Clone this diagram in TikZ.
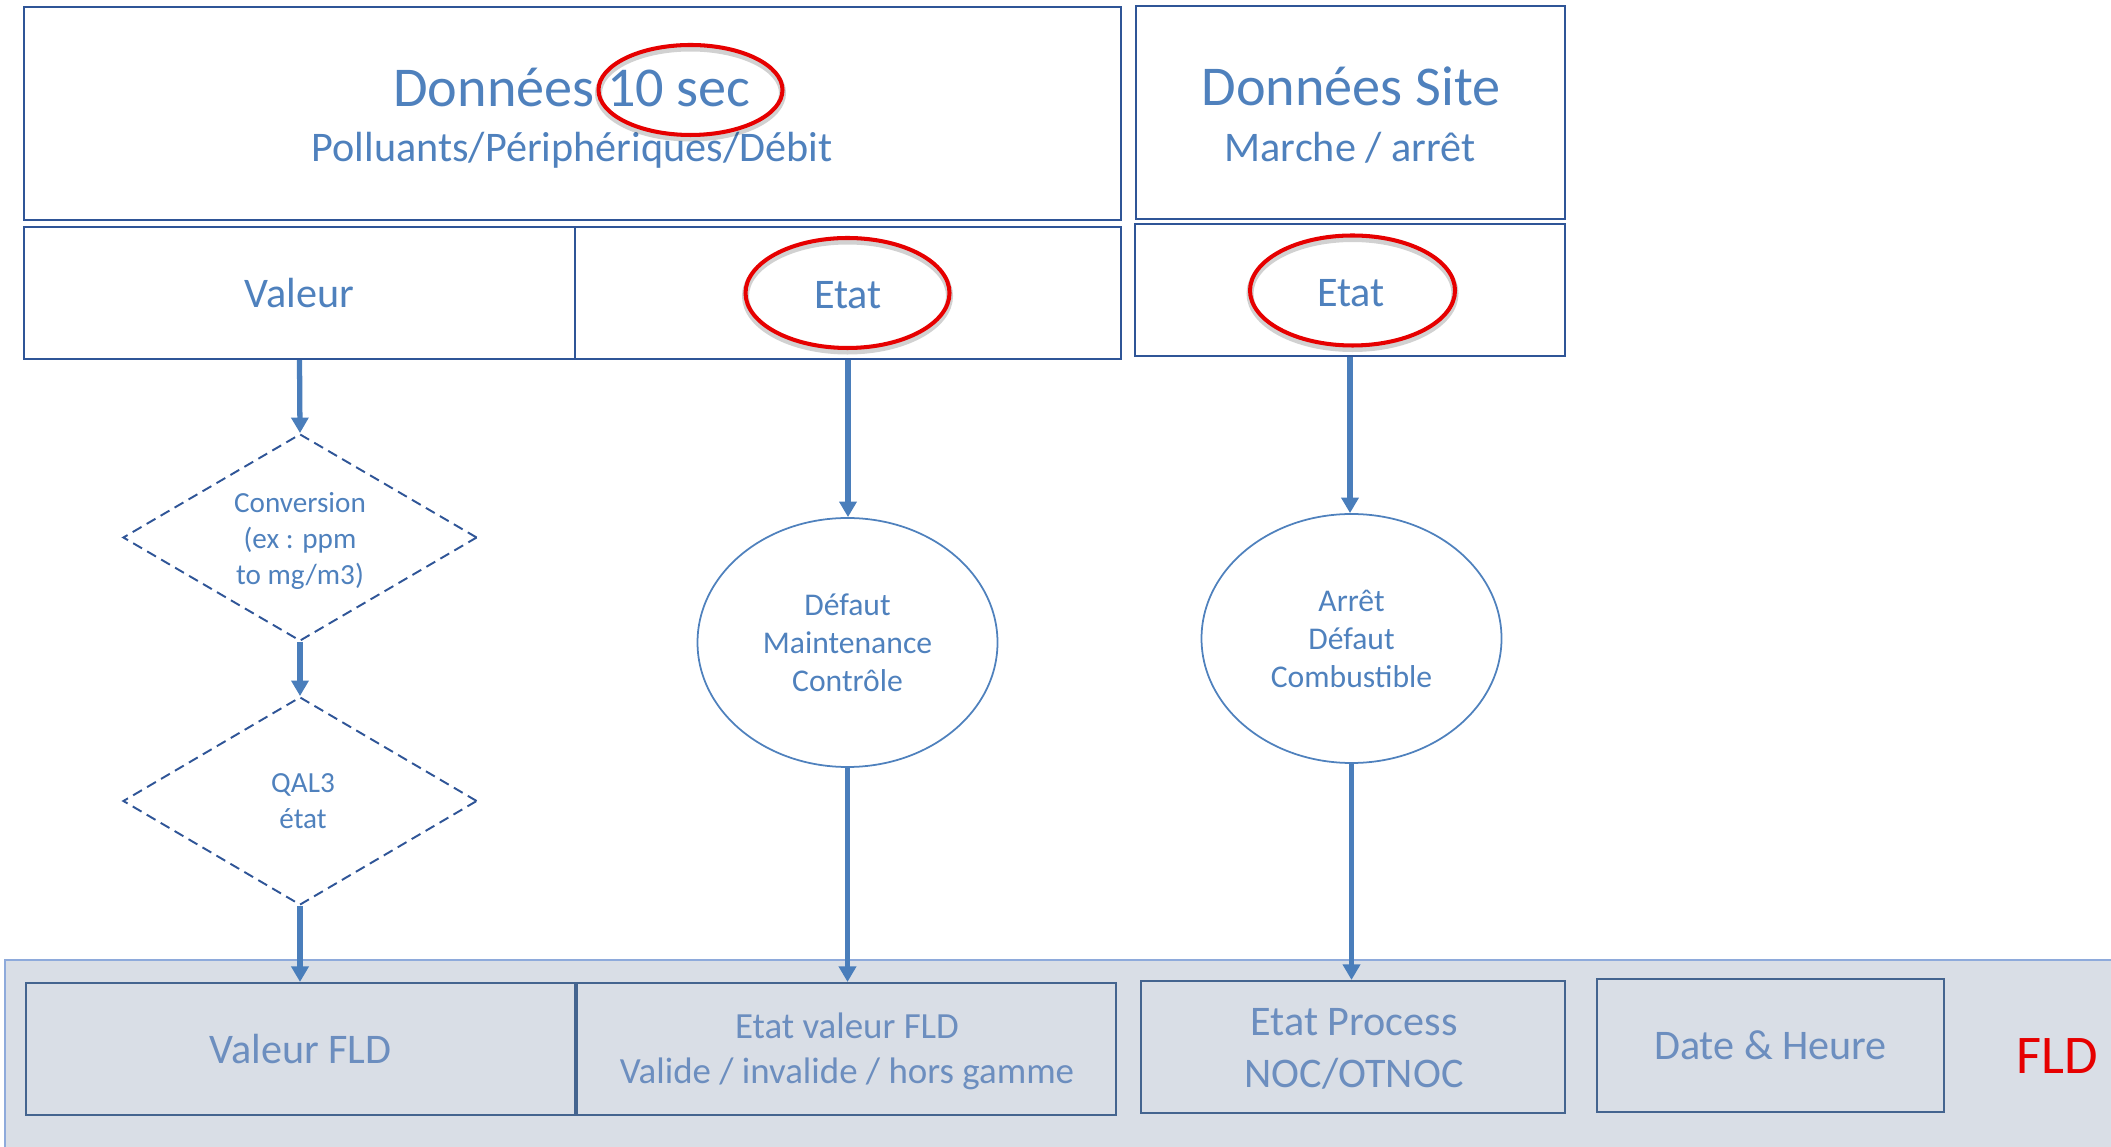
\documentclass[tikz,border=0pt]{standalone}
\usepackage{fontspec}
\setmainfont{Carlito}
\usetikzlibrary{shapes.geometric,arrows.meta}
\definecolor{txtblue}{HTML}{4F81BD}
\definecolor{boxblue}{HTML}{2F5597}
\definecolor{bandfill}{HTML}{D9DEE6}
\definecolor{bandline}{HTML}{8EAADB}
\definecolor{bandtxt}{HTML}{6C8EBF}
\definecolor{bandbox}{HTML}{44648F}
\definecolor{arrblue}{HTML}{4A7EBB}
\definecolor{ovalred}{HTML}{E60000}
\newcommand\fsz[2]{\fontsize{#1}{#2}\selectfont}
\begin{document}
\begin{tikzpicture}[x=1cm,y=-1cm,
  box/.style={draw=boxblue, line width=0.6pt, inner sep=0pt, text=txtblue, font=\fsz{12}{14}},
  bandbx/.style={draw=bandbox, line width=0.6pt, inner sep=0pt, text=bandtxt, font=\fsz{12}{14}},
  lbl/.style={anchor=base, inner sep=0pt, text=txtblue},
  blbl/.style={anchor=base, inner sep=0pt, text=bandtxt},
  redoval/.style={ellipse, draw=ovalred, line width=1.15pt, inner sep=0pt},
  redshadow/.style={ellipse, draw=black, draw opacity=0.18, line width=2pt, inner sep=0pt},
  dashdia/.style={diamond, aspect=1.7, draw=boxblue, line width=0.55pt, dash pattern=on 2.9pt off 1.7pt, inner sep=0pt},
  diatext/.style={inner sep=0pt, align=center, text=txtblue, font=\fsz{8.3}{10.2}},
  oval/.style={ellipse, draw=txtblue, line width=0.5pt, inner sep=0pt, align=center, text=txtblue, font=\fsz{9}{10.8}},
  arr/.style={draw=arrblue, line width=1.5pt, -{Triangle[length=4.4pt,width=4.8pt]}}
]
\useasboundingbox (0,0) rectangle (21.11,11.47);

% bottom band
\fill[bandfill] (0.05,9.60) rectangle (21.11,11.47);
\draw[bandline, line width=0.6pt] (0.05,11.47) -- (0.05,9.60) -- (21.11,9.60);

% top boxes
\node[box, minimum width=10.97cm, minimum height=2.13cm] (top1) at (5.725,1.135) {};
\node[box, minimum width=4.29cm, minimum height=2.13cm] (top2) at (13.505,1.125) {};
\node[lbl, font=\fsz{16}{19}] (t1a) at (5.72,1.07) {Données 10 sec};
\node[lbl, font=\fsz{12}{14}] (t1b) at (5.72,1.62) {Polluants/Périphériques/Débit};
\node[lbl, font=\fsz{16}{19}] (t2a) at (13.51,1.06) {Données Site};
\node[lbl, font=\fsz{12}{14}] (t2b) at (13.50,1.62) {Marche / arrêt};

% second row
\node[box, minimum width=5.51cm, minimum height=1.32cm] (valeur) at (2.995,2.93) {Valeur};
\node[box, minimum width=5.46cm, minimum height=1.32cm] (etat1) at (8.48,2.93) {};
\node[box, minimum width=4.30cm, minimum height=1.32cm] (etat2) at (13.50,2.90) {};

% red ovals with soft shadow
\node[redshadow, minimum width=1.84cm, minimum height=0.90cm] (r1s) at (6.905,0.93) {};
\node[redshadow, minimum width=2.04cm, minimum height=1.10cm] (r2s) at (8.475,2.96) {};
\node[redshadow, minimum width=2.05cm, minimum height=1.10cm] (r3s) at (13.525,2.935) {};
\node[redoval, minimum width=1.84cm, minimum height=0.90cm] (r1) at (6.905,0.90) {};
\node[redoval, minimum width=2.04cm, minimum height=1.10cm] (r2) at (8.475,2.93) {};
\node[redoval, minimum width=2.05cm, minimum height=1.10cm] (r3) at (13.525,2.905) {};
\node[lbl, font=\fsz{12}{14}] (r2t) at (8.48,3.09) {Etat};
\node[lbl, font=\fsz{12}{14}] (r3t) at (13.51,3.07) {Etat};

% diamonds
\node[dashdia, minimum width=3.54cm, minimum height=2.07cm] (dia1) at (3.00,5.375) {};
\node[dashdia, minimum width=3.54cm, minimum height=2.08cm] (dia2) at (3.00,8.01) {};
\node[diatext] (dia1t) at ([yshift=-0.035cm]dia1.center) {Conversion\\(ex : ppm\\to mg/m3)};
\node[diatext] (dia2t) at ([xshift=0.03cm,yshift=-0.005cm]dia2.center) {QAL3\\état};

% ellipses
\node[oval, minimum width=3.00cm, minimum height=2.49cm] (ell1) at (8.475,6.425) {Défaut\\Maintenance\\Contrôle};
\node[oval, minimum width=3.00cm, minimum height=2.49cm] (ell2) at (13.515,6.385) {Arrêt\\Défaut\\Combustible};

% bottom boxes
\node[bandbx, minimum width=5.49cm, minimum height=1.32cm] (vfld) at (3.005,10.49) {Valeur FLD};
\node[bandbx, minimum width=5.39cm, minimum height=1.32cm] (evfld) at (8.465,10.49) {};
\node[bandbx, minimum width=4.24cm, minimum height=1.32cm] (epro) at (13.53,10.47) {};
\node[bandbx, minimum width=3.47cm, minimum height=1.33cm] (date) at (17.705,10.455) {Date \& Heure};
\node[blbl, font=\fsz{10.5}{12.6}] (ev1) at (8.47,10.38) {Etat valeur FLD};
\node[blbl, font=\fsz{10.5}{12.6}] (ev2) at (8.47,10.83) {Valide / invalide / hors gamme};
\node[blbl, font=\fsz{12}{14}] (ep1) at (13.54,10.35) {Etat Process};
\node[blbl, font=\fsz{12}{14}] (ep2) at (13.54,10.87) {NOC/OTNOC};
\node[anchor=base, inner sep=0pt, text=ovalred, font=\fsz{15.5}{18}] (fld) at (20.57,10.73) {FLD};

% connectors
\draw[arr] (valeur.south) -- (dia1.north);
\draw[arr] (dia1.south) -- (dia2.north);
\draw[arr] (dia2.south) -- (dia2.south |- vfld.north);
\draw[arr] (etat1.south) -- (etat1.south |- ell1.north);
\draw[arr] (ell1.south) -- (ell1.south |- evfld.north);
\draw[arr] (etat2.south) -- (etat2.south |- ell2.north);
\draw[arr] (ell2.south) -- (ell2.south |- epro.north);
\end{tikzpicture}
\end{document}
